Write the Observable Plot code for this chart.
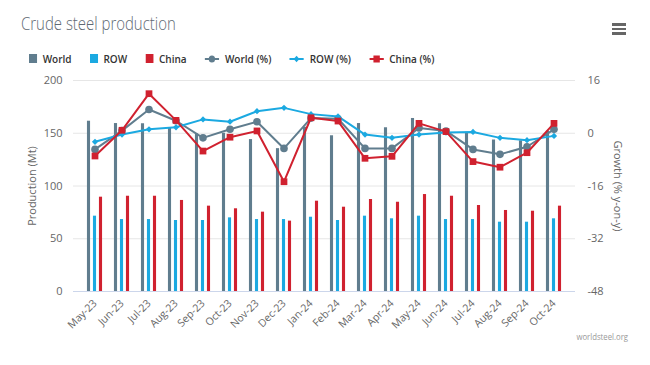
<!DOCTYPE html>
<html><head><meta charset="utf-8">
<script src="https://cdn.jsdelivr.net/npm/d3@7"></script>
<script src="https://cdn.jsdelivr.net/npm/@observablehq/plot@0.6"></script>
<style>
body{margin:0;background:#fff;}
#wrap{position:relative;width:650px;height:365px;overflow:hidden;font-family:"Open Sans",sans-serif;}
#title{position:absolute;left:21px;top:11px;font-size:18px;font-weight:300;color:#5e6973;white-space:nowrap;transform-origin:left top;transform:scaleX(0.83);}
#menu{position:absolute;left:612px;top:23px;width:14px;}
#menu span{display:block;height:2.5px;background:#666;margin-bottom:2px;}
#legend{position:absolute;left:29px;top:51px;display:flex;align-items:center;font-size:11px;font-weight:600;color:#333;white-space:nowrap;transform-origin:left center;transform:scaleX(0.91);}
.item{display:flex;align-items:center;margin-right:20px;}
.item svg{margin-right:6px;}
#chart{position:absolute;left:0;top:70px;}
#credit{position:absolute;right:22px;top:330px;font-size:9px;color:#999;transform-origin:right center;transform:scaleX(0.86);}
</style>
</head>
<body>
<div id="wrap">
  <div id="title">Crude steel production</div>
  <div id="menu"><span></span><span></span><span></span></div>
  <div id="legend"></div>
  <div id="chart"></div>
  <div id="credit">worldsteel.org</div>
</div>
<script>
const months = ["May-23","Jun-23","Jul-23","Aug-23","Sep-23","Oct-23","Nov-23","Dec-23","Jan-24","Feb-24","Mar-24","Apr-24","May-24","Jun-24","Jul-24","Aug-24","Sep-24","Oct-24"];
const worldMt = [161.4, 159.2, 159.0, 155.0, 149.3, 150.0, 144.0, 135.4, 155.7, 147.6, 159.2, 155.2, 164.0, 159.0, 150.9, 143.6, 142.8, 152.0];
const rowMt   = [71.4, 68.2, 68.2, 67.3, 67.3, 69.8, 68.2, 68.2, 70.4, 67.3, 71.4, 68.9, 71.4, 68.2, 68.2, 65.7, 65.7, 68.9];
const chinaMt = [89.4, 90.3, 90.3, 86.3, 80.9, 78.4, 75.2, 66.7, 85.6, 79.9, 87.2, 84.6, 91.9, 90.3, 81.5, 76.8, 76.1, 80.9];
const worldPct = [-4.9, 0.8, 7.2, 3.8, -1.4, 1.2, 3.5, -4.6, 4.6, 4.4, -4.6, -4.6, 1.6, 0.7, -4.9, -6.4, -4.1, 1.2];
const rowPct   = [-2.6, -0.4, 1.2, 1.8, 4.2, 3.5, 6.7, 7.7, 5.8, 5.1, -0.4, -1.4, -0.4, 0.2, 0.4, -1.4, -2.1, -0.8];
const chinaPct = [-6.9, 0.9, 12.0, 3.9, -5.4, -1.2, 0.7, -14.7, 4.7, 3.7, -7.6, -7.0, 3.0, 0.5, -8.6, -10.3, -5.9, 3.0];
const leftTicks = [0, 50, 100, 150, 200];
const rightTicks = [-48, -32, -16, 0, 16];
const seriesNames = ["World", "ROW", "China", "World (%)", "ROW (%)", "China (%)"];
const seriesColors = ["#607d8e", "#1ba9e1", "#d0212f", "#607d8e", "#1ba9e1", "#d0212f"];
const seriesKinds = ["bar", "bar", "bar", "circle", "diamond", "square"];

const pctMin = rightTicks[0], pctMax = rightTicks[rightTicks.length - 1];
const yMax = leftTicks[leftTicks.length - 1];
const toY = p => (p - pctMin) * yMax / (pctMax - pctMin);
const fromY = v => Math.round(v * (pctMax - pctMin) / yMax + pctMin);

const data = months.map((m, i) => ({
  month: m, world: worldMt[i], row: rowMt[i], china: chinaMt[i],
  worldPct: worldPct[i], rowPct: rowPct[i], chinaPct: chinaPct[i]
}));

// legend
const legend = document.getElementById("legend");
seriesNames.forEach((name, i) => {
  const c = seriesColors[i], k = seriesKinds[i];
  let sym;
  if (k === "bar") sym = `<svg width="9" height="9"><rect width="9" height="9" fill="${c}"/></svg>`;
  else {
    let mk;
    if (k === "circle") mk = `<circle cx="8" cy="5" r="3.5" fill="${c}"/>`;
    else if (k === "diamond") mk = `<path d="M8 1.8L11.2 5L8 8.2L4.8 5Z" fill="${c}"/>`;
    else mk = `<rect x="4.5" y="1.5" width="7" height="7" fill="${c}"/>`;
    sym = `<svg width="16" height="10"><line x1="0" x2="16" y1="5" y2="5" stroke="${c}" stroke-width="2"/>${mk}</svg>`;
  }
  const el = document.createElement("div");
  el.className = "item";
  el.innerHTML = sym + `<span>${name}</span>`;
  legend.appendChild(el);
});

const width = 650, marginLeft = 73, marginRight = 75;
const bw = (width - marginLeft - marginRight) / months.length;
const barW = 4, gap = 2;
function inset(k) {
  const groupW = 3 * barW + 2 * gap;
  const start = (bw - groupW) / 2 + k * (barW + gap);
  return {insetLeft: start, insetRight: bw - start - barW};
}

const txt = "#666666";
const chart = Plot.plot({
  width, height: 295,
  marginTop: 10, marginBottom: 74, marginLeft, marginRight,
  style: {fontFamily: "'Open Sans', sans-serif", fontSize: "10px", color: txt, background: "transparent"},
  x: {type: "band", domain: months, padding: 0},
  y: {domain: [0, yMax]},
  marks: [
    Plot.gridY(leftTicks, {stroke: "#e6e6e6", strokeOpacity: 1}),
    Plot.barY(data, {x: "month", y: "world", fill: seriesColors[0], ...inset(0)}),
    Plot.barY(data, {x: "month", y: "row", fill: seriesColors[1], ...inset(1)}),
    Plot.barY(data, {x: "month", y: "china", fill: seriesColors[2], ...inset(2)}),
    Plot.ruleY([0], {stroke: "#ccd6eb"}),
    Plot.line(data, {x: "month", y: d => toY(d.worldPct), stroke: seriesColors[3], strokeWidth: 2}),
    Plot.dot(data, {x: "month", y: d => toY(d.worldPct), fill: seriesColors[3], r: 3.8, symbol: "circle"}),
    Plot.line(data, {x: "month", y: d => toY(d.rowPct), stroke: seriesColors[4], strokeWidth: 2}),
    Plot.dot(data, {x: "month", y: d => toY(d.rowPct), fill: seriesColors[4], r: 2.8, symbol: "diamond2"}),
    Plot.line(data, {x: "month", y: d => toY(d.chinaPct), stroke: seriesColors[5], strokeWidth: 2}),
    Plot.dot(data, {x: "month", y: d => toY(d.chinaPct), fill: seriesColors[5], r: 3.8, symbol: "square"}),
    Plot.axisY(leftTicks, {anchor: "left", tickSize: 0, tickPadding: 11, label: null, fontSize: 11, fill: txt}),
    Plot.axisY(rightTicks.map(toY), {anchor: "right", tickSize: 0, tickPadding: 12, label: null, fontSize: 11, fill: txt, tickFormat: v => String(fromY(v))}),
    Plot.axisX({tickRotate: -45, tickSize: 0, tickPadding: 10, label: null, fontSize: 10.5, fill: txt}),
    Plot.text(["Production (Mt)"], {text: d => d, frameAnchor: "left", textAnchor: "middle", dx: -41, rotate: -90, fontSize: 11, fill: txt}),
    Plot.text(["Growth (% y-on-y)"], {text: d => d, frameAnchor: "right", textAnchor: "middle", dx: 42, rotate: 90, fontSize: 11, fill: txt})
  ]
});
document.getElementById("chart").appendChild(chart);
</script>
</body></html>
